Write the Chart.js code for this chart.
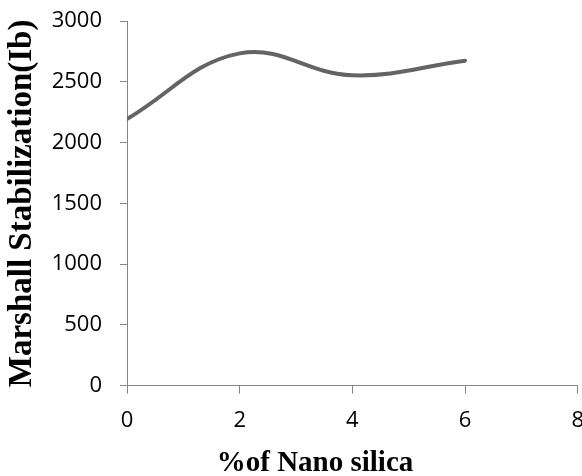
<!DOCTYPE html>
<html>
<head>
<meta charset="utf-8">
<script src="https://cdn.jsdelivr.net/npm/chart.js@4"></script>
<style>
  html, body { margin: 0; padding: 0; background: #fff; overflow: hidden; }
  #wrap { width: 582px; height: 476px; overflow: hidden; }
  #chart { display: block; margin-top: -10px; }
</style>
</head>
<body>
<div id="wrap"><canvas id="chart" width="598" height="486"></canvas></div>
<script>
// % of nano silica vs Marshall stability
const nanoSilica = [0, 2, 4, 6];
const stability = [2195, 2735, 2555, 2675];
const xTicks = [0, 2, 4, 6, 8];
const yTicks = [0, 500, 1000, 1500, 2000, 2500, 3000];
const xTitle = '%of Nano silica';
const yTitle = 'Marshall Stabilization(Ib)';

const axisGray = '#868686';
const tickFont = { family: "'Open Sans', sans-serif", size: 22 };
const serif = "'Liberation Serif', 'Times New Roman', serif";

// x title sits a bit left of the plot centre in the original, so draw it by hand
const xTitlePlugin = {
    id: 'xTitle',
    afterDraw(chart) {
        const ctx = chart.ctx;
        ctx.save();
        ctx.font = 'bold 29px ' + serif;
        ctx.fillStyle = '#000';
        ctx.textAlign = 'center';
        ctx.textBaseline = 'alphabetic';
        ctx.fillText(xTitle, 315, 481);
        ctx.restore();
    }
};

new Chart(document.getElementById('chart').getContext('2d'), {
    type: 'scatter',
    data: {
        datasets: [{
            label: 'Marshall Stabilization',
            data: nanoSilica.map((x, i) => ({ x: x, y: stability[i] })),
            showLine: true,
            borderColor: '#646464',
            borderWidth: 4,
            pointRadius: 0,
            tension: 0.4,
            borderCapStyle: 'round'
        }]
    },
    options: {
        responsive: false,
        animation: false,
        layout: { padding: { top: 0, right: 0, left: 0, bottom: 28 } },
        plugins: {
            legend: { display: false },
            tooltip: { enabled: false }
        },
        scales: {
            x: {
                type: 'linear',
                min: 0,
                max: 8,
                afterBuildTicks: (axis) => { axis.ticks = xTicks.map(v => ({ value: v })); },
                grid: { drawOnChartArea: false, drawTicks: true, tickLength: 8, color: axisGray },
                border: { color: axisGray, width: 1 },
                ticks: { color: '#000', font: tickFont, padding: 14, callback: v => String(v) }
            },
            y: {
                min: 0,
                max: 3000,
                afterBuildTicks: (axis) => { axis.ticks = yTicks.map(v => ({ value: v })); },
                afterFit: (axis) => { axis.width = 127; },
                grid: { drawOnChartArea: false, drawTicks: true, tickLength: 7, color: axisGray },
                border: { color: axisGray, width: 1 },
                ticks: { color: '#000', font: tickFont, padding: 18, callback: v => String(v) },
                title: {
                    display: true,
                    text: yTitle,
                    color: '#000',
                    font: { family: serif, size: 33, weight: 'bold' },
                    padding: { top: 3, bottom: 0 }
                }
            }
        }
    },
    plugins: [xTitlePlugin]
});
</script>
</body>
</html>
